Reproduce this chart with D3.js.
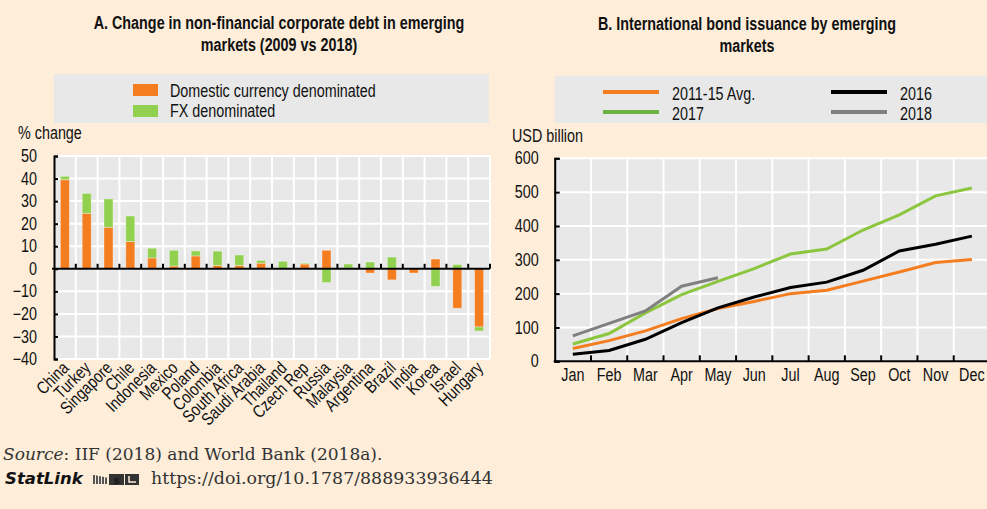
<!DOCTYPE html>
<html>
<head>
<meta charset="utf-8">
<script src="https://cdn.jsdelivr.net/npm/d3@7"></script>
<style>
  body { margin: 0; background: #FDEDD9; }
  svg { display: block; }
  text { font-family: "Liberation Sans", Arial, sans-serif; fill: #111; }
  .serif { font-family: "DejaVu Serif", serif; fill: #333; }
</style>
</head>
<body>
<div id="chart"></div>
<script>
// panel A data
const countries = ["China", "Turkey", "Singapore", "Chile", "Indonesia", "Mexico", "Poland", "Colombia",
  "South Africa", "Saudi Arabia", "Thailand", "Czech Rep", "Russia", "Malaysia", "Argentina", "Brazil",
  "India", "Korea", "Israel", "Hungary"];
const domestic = [39.5, 24.6, 18.4, 12.1, 4.8, 1.2, 5.7, 1.5, 1.5, 2.5, 0, 2.1, 8.2, 0.3, -1.9, -4.9, -1.9, 4.3, -17.5, -25.8];
const fx = [1.5, 8.8, 12.6, 11.3, 4.3, 7.0, 2.2, 6.3, 4.6, 1.2, 3.3, 0.4, -6.1, 1.8, 3.0, 5.2, 0, -7.8, 1.9, -1.8];
const barSeries = ["Domestic currency denominated", "FX denominated"];
const yTicksA = [-40, -30, -20, -10, 0, 10, 20, 30, 40, 50];

// panel B data
const months = ["Jan", "Feb", "Mar", "Apr", "May", "Jun", "Jul", "Aug", "Sep", "Oct", "Nov", "Dec"];
const avg1115 = [38, 61, 90, 126, 156, 177, 200, 210, 237, 264, 292, 301];
const y2016 = [21, 32, 65, 114, 158, 190, 218, 234, 269, 326, 346, 370];
const y2017 = [51, 82, 143, 197, 236, 274, 317, 332, 388, 433, 489, 512];
const y2018 = [75, 112, 149, 222, 247];
const yTicksB = [0, 100, 200, 300, 400, 500, 600];

const svg = d3.select("#chart").append("svg")
  .attr("width", 987)
  .attr("height", 509);

const plotBg = "#E8E8E8";
const orange = "#F47D20";
const green = "#92D050";
const SX = 0.82; // fake a condensed face

// condensed text helper
function ntext(g, x, y, str, size, opts = {}) {
  const t = g.append("text")
    .attr("transform", `translate(${x},${y})${opts.rotate ? ` rotate(${opts.rotate})` : ""} scale(${SX},1)`)
    .style("font-size", size + "px")
    .text(str);
  if (opts.anchor) t.attr("text-anchor", opts.anchor);
  if (opts.bold) t.style("font-weight", "bold");
  return t;
}

// ---------- Panel A ----------
const A = { left: 54, right: 490, top: 156, bottom: 359 };

ntext(svg, 279, 29, "A. Change in non-financial corporate debt in emerging", 17.5, { anchor: "middle", bold: true });
ntext(svg, 279, 51, "markets (2009 vs 2018)", 17.5, { anchor: "middle", bold: true });

// legend
svg.append("rect").attr("x", 54).attr("y", 74).attr("width", 435).attr("height", 49).attr("fill", plotBg);
[orange, green].forEach((c, i) => {
  svg.append("rect").attr("x", 133).attr("y", 84 + i * 21).attr("width", 25).attr("height", 12).attr("fill", c);
  ntext(svg, 170, 97 + i * 20, barSeries[i], 17.5);
});

const xA = d3.scaleBand().domain(countries).range([A.left, A.right]);
const yA = d3.scaleLinear().domain([-40, 50]).range([A.bottom, A.top]);

svg.append("rect").attr("x", A.left).attr("y", A.top)
  .attr("width", A.right - A.left).attr("height", A.bottom - A.top).attr("fill", plotBg);

// grid
svg.append("g").selectAll("line").data(yTicksA).join("line")
  .attr("x1", A.left).attr("x2", A.right)
  .attr("y1", d => yA(d)).attr("y2", d => yA(d))
  .attr("stroke", "#fff").attr("stroke-width", 2);
svg.append("g").selectAll("line").data(countries).join("line")
  .attr("x1", (d, i) => A.left + xA.step() * (i + 1)).attr("x2", (d, i) => A.left + xA.step() * (i + 1))
  .attr("y1", A.top).attr("y2", A.bottom)
  .attr("stroke", "#fff").attr("stroke-width", 2);

// stacked bars
const rows = countries.map((c, i) => ({ country: c, dom: domestic[i], fx: fx[i] }));
const stacked = d3.stack().keys(["dom", "fx"]).offset(d3.stackOffsetDiverging)(rows);
const barW = 9;
svg.append("g").selectAll("g").data(stacked).join("g")
  .attr("fill", (d, i) => i === 0 ? orange : green)
  .selectAll("rect").data(d => d).join("rect")
  .attr("x", d => xA(d.data.country) + xA.bandwidth() / 2 - barW / 2)
  .attr("width", barW)
  .attr("y", d => yA(Math.max(d[0], d[1])))
  .attr("height", d => Math.abs(yA(d[0]) - yA(d[1])))
  .attr("stroke", "rgba(255,255,255,0.35)").attr("stroke-width", 1);

// y axis
const axA = svg.append("g").attr("transform", `translate(${A.left},0)`)
  .call(d3.axisLeft(yA).tickValues(yTicksA).tickSize(-4).tickFormat(d3.format("d")));
axA.select(".domain").attr("stroke", "#000").attr("stroke-width", 2);
axA.selectAll(".tick line").attr("stroke", "#000").attr("stroke-width", 2);
axA.selectAll(".tick text").style("font-size", "17.5px").attr("font-family", null).attr("fill", "#111")
  .attr("x", -17 / SX).attr("transform", `scale(${SX},1)`);

// zero line with category ticks
svg.append("line").attr("x1", A.left - 2).attr("x2", A.right).attr("y1", yA(0)).attr("y2", yA(0))
  .attr("stroke", "#000").attr("stroke-width", 2);
svg.append("g").selectAll("line").data(countries).join("line")
  .attr("x1", (d, i) => A.left + xA.step() * (i + 1)).attr("x2", (d, i) => A.left + xA.step() * (i + 1))
  .attr("y1", yA(0)).attr("y2", yA(0) - 5)
  .attr("stroke", "#000").attr("stroke-width", 2);

// category labels
const catG = svg.append("g");
countries.forEach(c => {
  ntext(catG, xA(c) + xA.bandwidth() / 2 + 5, A.bottom + 10, c, 17.5, { anchor: "end", rotate: -45 });
});

ntext(svg, 18, 139, "% change", 17.5);

// ---------- Panel B ----------
const B = { left: 554.7, right: 990, top: 158.3, bottom: 361.3 };

ntext(svg, 747, 30, "B. International bond issuance by emerging", 17.5, { anchor: "middle", bold: true });
ntext(svg, 747, 52, "markets", 17.5, { anchor: "middle", bold: true });

const lineSeries = [
  { name: "2011-15 Avg.", values: avg1115, color: orange },
  { name: "2016", values: y2016, color: "#000" },
  { name: "2017", values: y2017, color: "#8CC63F" },
  { name: "2018", values: y2018, color: "#808080" }
];

svg.append("rect").attr("x", 555).attr("y", 76).attr("width", 432).attr("height", 47).attr("fill", plotBg);
lineSeries.forEach((s, i) => {
  const col = i % 2, row = Math.floor(i / 2);
  const lx = col === 0 ? 603 : 831;
  const ly = 92 + row * 20;
  svg.append("line").attr("x1", lx).attr("x2", lx + 56).attr("y1", ly).attr("y2", ly)
    .attr("stroke", i === 2 ? "#6FB043" : s.color).attr("stroke-width", 4);
  ntext(svg, lx + 69, ly + 8, s.name, 17.5);
});

const xB = d3.scaleBand().domain(months).range([B.left, B.right]);
const yB = d3.scaleLinear().domain([0, 600]).range([B.bottom, B.top]);

svg.append("rect").attr("x", B.left).attr("y", B.top)
  .attr("width", B.right - B.left).attr("height", B.bottom - B.top).attr("fill", plotBg);

svg.append("g").selectAll("line").data(yTicksB).join("line")
  .attr("x1", B.left).attr("x2", B.right)
  .attr("y1", d => yB(d)).attr("y2", d => yB(d))
  .attr("stroke", "#fff").attr("stroke-width", 2);
svg.append("g").selectAll("line").data(months).join("line")
  .attr("x1", (d, i) => B.left + xB.step() * (i + 1)).attr("x2", (d, i) => B.left + xB.step() * (i + 1))
  .attr("y1", B.top).attr("y2", B.bottom)
  .attr("stroke", "#fff").attr("stroke-width", 2);

const line = d3.line()
  .x((d, i) => xB(months[i]) + xB.bandwidth() / 2)
  .y(d => yB(d));
svg.append("g").selectAll("path").data(lineSeries).join("path")
  .attr("d", d => line(d.values))
  .attr("fill", "none")
  .attr("stroke", d => d.color)
  .attr("stroke-width", 3);

const axB = svg.append("g").attr("transform", `translate(${B.left},0)`)
  .call(d3.axisLeft(yB).tickValues(yTicksB).tickSize(-5));
axB.select(".domain").attr("stroke", "#000").attr("stroke-width", 2);
axB.selectAll(".tick line").attr("stroke", "#000").attr("stroke-width", 2);
axB.selectAll(".tick text").style("font-size", "17.5px").attr("font-family", null).attr("fill", "#111")
  .attr("x", -16 / SX).attr("transform", `scale(${SX},1)`);

svg.append("line").attr("x1", B.left - 1).attr("x2", B.right).attr("y1", B.bottom).attr("y2", B.bottom)
  .attr("stroke", "#000").attr("stroke-width", 2);
svg.append("g").selectAll("line").data(months).join("line")
  .attr("x1", (d, i) => B.left + xB.step() * (i + 1)).attr("x2", (d, i) => B.left + xB.step() * (i + 1))
  .attr("y1", B.bottom).attr("y2", B.bottom - 6)
  .attr("stroke", "#000").attr("stroke-width", 2);
const monG = svg.append("g");
months.forEach(m => ntext(monG, xB(m) + xB.bandwidth() / 2, 381, m, 17.5, { anchor: "middle" }));

ntext(svg, 512, 142, "USD billion", 17.5);

// ---------- footer ----------
const src = svg.append("text").attr("class", "serif").attr("x", 3).attr("y", 460).style("font-size", "17px");
src.append("tspan").style("font-style", "italic").text("Source");
src.append("tspan").text(": IIF (2018) and World Bank (2018a).");

svg.append("text").attr("x", 5).attr("y", 484)
  .style("font-family", "'DejaVu Sans', sans-serif").style("font-weight", "bold").style("font-style", "italic")
  .style("font-size", "16.5px").attr("fill", "#333").text("StatLink");
const logo = svg.append("g").attr("transform", "translate(93,474)");
[0, 3, 6, 9, 12].forEach((o, i) => logo.append("rect").attr("x", o).attr("y", 1 + i * 0.6).attr("width", 2).attr("height", 9 - i * 0.6).attr("fill", "#555"));
logo.append("rect").attr("x", 16).attr("y", 0).attr("width", 15).attr("height", 11).attr("fill", "#333");
logo.append("rect").attr("x", 32).attr("y", 0).attr("width", 14).attr("height", 11).attr("fill", "#333");
logo.append("text").attr("x", 23.5).attr("y", 9.5).attr("text-anchor", "middle")
  .style("font-size", "11px").style("font-weight", "bold").attr("fill", "#FDEDD9").text("s");
logo.append("path").attr("d", "M36,2V8H43").attr("fill", "none").attr("stroke", "#FDEDD9").attr("stroke-width", 1.5);

svg.append("text").attr("class", "serif").attr("x", 151).attr("y", 484).style("font-size", "17.4px")
  .text("https://doi.org/10.1787/888933936444");
</script>
</body>
</html>
